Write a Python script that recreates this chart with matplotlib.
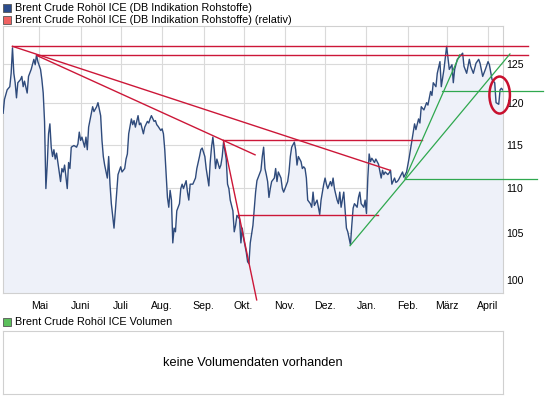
import numpy as np
import matplotlib
matplotlib.use("Agg")
import matplotlib.pyplot as plt
import matplotlib.dates as mdates
from matplotlib.patches import Rectangle, Ellipse
from matplotlib.ticker import FixedLocator, FuncFormatter, NullLocator
from matplotlib.transforms import ScaledTranslation

plt.rcParams['font.family'] = ['Liberation Sans', 'DejaVu Sans']

# Brent Crude, Tage ab 04.04.2011
start = '2011-04-04'
days = [0, 1, 3, 5, 6, 7, 8, 9, 10, 11, 13, 14, 15, 16, 18, 19, 21, 23, 24, 25,
        26, 28, 29, 30, 31, 32, 33, 34, 35, 36, 37, 38, 39, 40, 41, 43, 44, 45, 46, 48,
        49, 50, 51, 53, 55, 56, 57, 58, 59, 61, 62, 63, 64, 66, 67, 68, 70, 71, 73, 74,
        75, 76, 78, 79, 80, 81, 83, 84, 85, 86, 88, 89, 91, 92, 93, 94, 96, 97, 98, 99,
        101, 102, 103, 105, 106, 108, 109, 110, 111, 113, 114, 115, 116, 118, 119, 120, 121, 122, 123, 124,
        125, 126, 127, 128, 129, 130, 132, 133, 134, 135, 137, 138, 139, 140, 142, 144, 145, 147, 148, 149,
        151, 152, 154, 155, 156, 157, 158, 159, 160, 162, 163, 164, 165, 167, 168, 169, 170, 172, 173, 174,
        175, 177, 178, 179, 180, 182, 183, 184, 185, 187, 188, 189, 190, 192, 193, 194, 195, 196, 197, 198,
        199, 200, 201, 203, 204, 205, 206, 208, 209, 210, 211, 213, 214, 215, 216, 218, 219, 220, 221, 223,
        224, 225, 226, 227, 228, 230, 231, 232, 233, 235, 236, 237, 238, 240, 241, 242, 243, 245, 246, 247,
        248, 250, 251, 252, 253, 255, 256, 257, 258, 260, 261, 262, 263, 265, 266, 267, 268, 270, 271, 272,
        273, 274, 275, 276, 278, 279, 280, 281, 283, 284, 285, 286, 288, 289, 290, 291, 293, 294, 295, 296,
        298, 299, 300, 302, 304, 306, 308, 309, 311, 312, 313, 315, 317, 318, 320, 321, 322, 324, 325, 327,
        328, 330, 332, 334, 336, 337, 338, 340, 342, 344, 345, 347, 349, 350, 352, 354, 356, 357, 359, 361,
        363, 364, 366, 367, 368, 369, 371, 372, 373, 374]
price = [118.8, 120.5, 121.7, 122.1, 123.8, 127.1, 123.8, 122.6, 120.7, 122.6, 123.0, 123.4, 122.1, 122.8, 121.3, 123.4, 124.3, 125.6, 124.9, 126.2,
         125.3, 124.3, 123.0, 121.3, 117.8, 109.9, 112.6, 116.3, 117.5, 114.7, 113.6, 114.4, 113.3, 114.0, 112.9, 110.7, 112.2, 111.8, 112.6, 109.9,
         112.9, 112.2, 114.7, 114.9, 114.7, 115.1, 116.5, 115.5, 115.9, 114.7, 115.9, 114.4, 117.1, 118.8, 119.6, 119.0, 119.6, 120.1, 118.5, 115.5,
         113.6, 112.6, 111.1, 113.6, 110.4, 108.2, 105.5, 107.4, 109.5, 111.5, 112.4, 111.8, 112.2, 113.3, 113.9, 116.3, 118.1, 117.4, 117.9, 117.1,
         118.5, 117.4, 117.6, 116.3, 117.1, 117.8, 117.6, 118.1, 118.5, 117.8, 117.9, 117.4, 117.2, 116.7, 116.9, 116.3, 114.4, 111.5, 108.9, 107.8,
         109.7, 108.6, 103.9, 105.5, 105.1, 107.4, 108.2, 109.9, 110.4, 109.9, 110.8, 109.5, 108.6, 110.4, 110.4, 111.1, 112.2, 113.6, 114.4, 114.6,
         113.6, 112.2, 110.2, 112.9, 114.7, 115.9, 114.4, 112.2, 113.3, 112.2, 112.6, 113.6, 115.3, 113.3, 110.4, 109.9, 108.6, 107.4, 105.1, 105.8,
         106.9, 106.5, 103.9, 105.5, 104.4, 102.9, 101.9, 101.7, 103.9, 105.8, 107.7, 109.5, 110.8, 111.6, 112.0, 113.6, 114.7, 112.2, 111.5, 110.7,
         108.9, 109.9, 110.7, 111.1, 112.2, 110.7, 111.8, 111.1, 109.9, 109.5, 109.9, 110.7, 111.8, 113.6, 114.7, 115.3, 114.4, 112.6, 113.6, 113.0,
         112.2, 112.4, 112.2, 111.1, 108.6, 108.2, 107.8, 109.5, 108.0, 108.6, 107.8, 107.0, 108.6, 110.4, 111.1, 110.4, 109.9, 110.7, 110.2, 111.1,
         109.9, 108.6, 108.2, 109.5, 107.8, 109.5, 107.4, 105.5, 105.1, 103.7, 105.8, 107.7, 108.2, 107.8, 108.9, 109.5, 108.2, 107.8, 108.6, 107.1,
         111.1, 113.9, 113.0, 113.4, 112.9, 113.3, 113.0, 112.7, 111.1, 112.0, 111.5, 111.8, 111.5, 111.7, 112.0, 110.4, 111.1, 110.6, 110.7, 110.9,
         111.5, 111.8, 111.2, 111.8, 113.5, 115.5, 117.5, 116.8, 118.1, 117.6, 119.6, 119.2, 120.1, 119.8, 121.5, 121.0, 122.6, 122.1, 123.8, 125.3,
         122.1, 124.3, 127.3, 124.3, 124.9, 122.6, 124.3, 125.6, 126.0, 126.4, 124.7, 123.8, 125.6, 124.7, 123.8, 125.1, 125.6, 125.1, 123.4, 124.3,
         125.3, 124.9, 123.0, 122.8, 122.6, 120.1, 119.9, 121.7, 121.9, 121.7]

# Trendlinien: (Tag, Kurs) Anfang und Ende
red_lines = [((7, 127.3), (393, 127.3)),
             ((25.2, 126.1), (393, 126.1)),
             ((7, 127.3), (289.6, 112.0)),
             ((25.2, 126.1), (188.6, 113.8)),
             ((164.9, 115.5), (313.3, 115.5)),
             ((164.9, 115.5), (189.8, 97.96)),
             ((176.1, 106.95), (280.6, 106.95))]
green_lines = [((328.3, 121.6), (404.1, 121.6)),
               ((300.8, 111.0), (399.4, 111.0)),
               ((259.7, 103.6), (379.4, 126.3)),
               ((300.8, 111.0), (341.9, 126.2))]
circle_center = (371.7, 121.05)

months = ['Mai', 'Juni', 'Juli', 'Aug.', 'Sep.', 'Okt.', 'Nov.', 'Dez.',
          'Jan.', 'Feb.', 'März', 'April']
yticks = [100, 105, 110, 115, 120, 125]

W, H = 545, 398
fig = plt.figure(figsize=(W / 100, H / 100), dpi=100)
fig.patch.set_facecolor('white')

base = mdates.date2num(np.datetime64(start))
x = base + np.array(days, dtype=float)
ylo, yhi = 98.66, 130

ax = fig.add_axes([3 / W, 1 - 293 / H, 500 / W, 267 / H])
ax.set_yscale('log')
ax.fill_between(x, price, ylo, color='#eef1f9', lw=0, zorder=1)
ax.plot(x, price, color='#2f4b7c', lw=1.0, zorder=3)
ax.set_xlim(base - 0.1, base + 374.2)
ax.set_ylim(ylo, yhi)

for (d0, v0), (d1, v1) in red_lines:
    ax.plot([base + d0, base + d1], [v0, v1], color='#cc1738', lw=1.0,
            clip_on=False, zorder=4)
for (d0, v0), (d1, v1) in green_lines:
    ax.plot([base + d0, base + d1], [v0, v1], color='#2fa84f', lw=0.9,
            clip_on=False, zorder=4)

ax.yaxis.tick_right()
ax.yaxis.set_major_locator(FixedLocator(yticks))
ax.yaxis.set_minor_locator(NullLocator())
ax.yaxis.set_major_formatter(FuncFormatter(lambda v, p: '%d' % v))
ax.xaxis.set_major_locator(mdates.MonthLocator())
ax.xaxis.set_major_formatter(FuncFormatter(
    lambda v, p: months[(mdates.num2date(v).month - 5) % 12]))
ax.tick_params(axis='both', length=0, labelsize=7.6, colors='black')
ax.tick_params(axis='x', pad=6)
ax.tick_params(axis='y', pad=2)
ax.grid(True, color='#dadada', lw=0.8, zorder=0)
ax.set_axisbelow(True)
for s in ax.spines.values():
    s.set_color('#d0d0d0')
    s.set_linewidth(0.8)

# roter Kreis um das Kursende
trans = fig.dpi_scale_trans + ScaledTranslation(base + circle_center[0],
                                                circle_center[1], ax.transData)
ax.add_artist(Ellipse((0, 0), 0.205, 0.37, transform=trans, fill=False,
                      ec='#c8102e', lw=1.8, clip_on=False, zorder=6))

# Legenden
def legend_item(px, py, color, text):
    fig.add_artist(Rectangle((px / W, 1 - (py + 4) / H), 8 / W, 8 / H,
                             transform=fig.transFigure, fc=color,
                             ec='#555555', lw=0.6))
    fig.text((px + 12) / W, 1 - py / H, text, fontsize=7.8, va='center',
             ha='left', color='black')

legend_item(3, 8, '#2b4c8c', 'Brent Crude Rohöl ICE (DB Indikation Rohstoffe)')
legend_item(3, 20, '#f06262',
            'Brent Crude Rohöl ICE (DB Indikation Rohstoffe) (relativ)')
legend_item(3, 322, '#5cc05c', 'Brent Crude Rohöl ICE Volumen')

vax = fig.add_axes([3 / W, 1 - 394 / H, 500 / W, 63 / H])
vax.set_xticks([])
vax.set_yticks([])
for s in vax.spines.values():
    s.set_color('#d0d0d0')
    s.set_linewidth(0.8)
vax.text(0.5, 0.5, 'keine Volumendaten vorhanden', transform=vax.transAxes,
         ha='center', va='center', fontsize=9.2)

fig.savefig('out.png', dpi=100)
